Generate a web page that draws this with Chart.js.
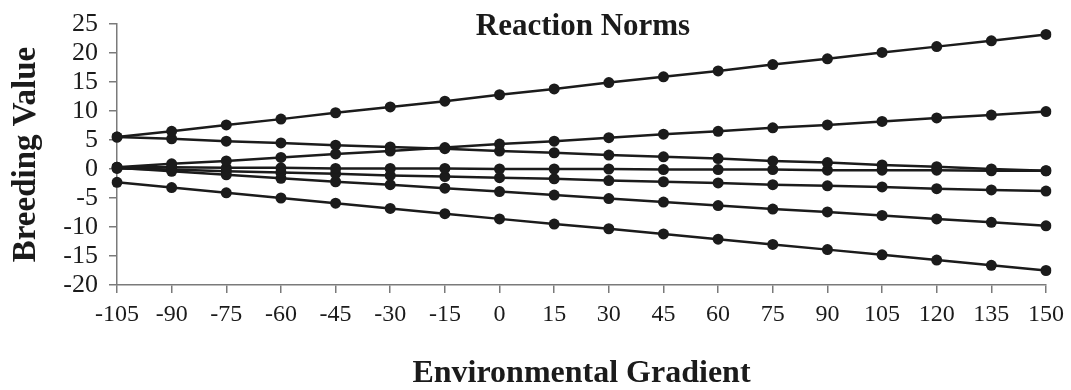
<!DOCTYPE html>
<html>
<head>
<meta charset="utf-8">
<script src="https://cdn.jsdelivr.net/npm/chart.js@4/dist/chart.umd.min.js"></script>
<style>
  html, body { margin: 0; padding: 0; background: #ffffff; }
  #wrap { width: 1071px; height: 390px; position: relative; }
</style>
</head>
<body>
<div id="wrap"><canvas id="c" width="1071" height="390"></canvas></div>
<script>
// Environmental gradient categories
const gradient = ["-105","-90","-75","-60","-45","-30","-15","0","15","30","45","60","75","90","105","120","135","150"];

// Breeding values per genotype (reaction norms)
const normA = [5.5, 6.5, 7.6, 8.6, 9.7, 10.7, 11.7, 12.8, 13.8, 14.9, 15.9, 16.9, 18.0, 19.0, 20.1, 21.1, 22.1, 23.2];
const normB = [0.3, 0.9, 1.4, 2.0, 2.6, 3.1, 3.7, 4.3, 4.8, 5.4, 6.0, 6.5, 7.1, 7.6, 8.2, 8.8, 9.3, 9.9];
const normC = [5.5, 5.2, 4.8, 4.5, 4.1, 3.8, 3.5, 3.1, 2.8, 2.4, 2.1, 1.8, 1.4, 1.1, 0.7, 0.4, 0.0, -0.3];
const normD = [0.3, 0.3, 0.2, 0.2, 0.1, 0.1, 0.1, 0.0, 0.0, 0.0, -0.1, -0.1, -0.1, -0.2, -0.2, -0.2, -0.3, -0.3];
const normE = [0.1, -0.1, -0.4, -0.6, -0.8, -1.1, -1.3, -1.5, -1.7, -2.0, -2.2, -2.4, -2.7, -2.9, -3.1, -3.4, -3.6, -3.8];
const normF = [0.2, -0.4, -1.0, -1.6, -2.2, -2.7, -3.3, -3.9, -4.5, -5.1, -5.7, -6.3, -6.9, -7.4, -8.0, -8.6, -9.2, -9.8];
const normG = [-2.3, -3.2, -4.1, -5.0, -5.9, -6.8, -7.7, -8.6, -9.5, -10.3, -11.2, -12.1, -13.0, -13.9, -14.8, -15.7, -16.6, -17.5];

// Y tick range
const yMin = -20, yMax = 25, yStep = 5;

const titleText = "Reaction Norms";
const xTitle = "Environmental Gradient";
const yTitle = "Breeding Value";

const serif = "'Liberation Serif', 'Times New Roman', serif";
const ink = "#1b1b1b";
const axisGrey = "#7a7a7a";

function series(data) {
  return {
    data: data,
    borderColor: ink,
    backgroundColor: ink,
    borderWidth: 2.5,
    pointRadius: 5.5,
    pointHoverRadius: 5.5,
    pointBackgroundColor: ink,
    pointBorderColor: ink,
    pointBorderWidth: 0,
    tension: 0,
    fill: false
  };
}

const innerTitle = {
  id: 'innerTitle',
  afterDraw(chart) {
    const ctx = chart.ctx;
    ctx.save();
    ctx.font = "bold 31px " + serif;
    ctx.fillStyle = ink;
    ctx.textAlign = 'center';
    ctx.textBaseline = 'alphabetic';
    ctx.fillText(titleText, 583, 35);
    ctx.restore();
  }
};

new Chart(document.getElementById('c'), {
  type: 'line',
  data: {
    labels: gradient,
    datasets: [normA, normB, normC, normD, normE, normF, normG].map(series)
  },
  options: {
    responsive: false,
    animation: false,
    layout: { padding: { left: 0, right: 23, top: 21, bottom: 0 } },
    plugins: {
      legend: { display: false },
      title: { display: false },
      tooltip: { enabled: false }
    },
    scales: {
      x: {
        type: 'category',
        offset: false,
        grid: { drawOnChartArea: false, drawTicks: true, tickLength: 8, color: axisGrey, offset: false, lineWidth: 1.5 },
        border: { display: true, color: axisGrey, width: 1.5 },
        ticks: { color: ink, font: { family: serif, size: 24 }, padding: 7, maxRotation: 0, autoSkip: false },
        title: { display: true, text: xTitle, color: ink, font: { family: serif, size: 32, weight: 'bold', lineHeight: 1.0 }, padding: { top: 0, bottom: 0 } },
        afterFit(scale) { scale.height = 105; }
      },
      y: {
        min: yMin, max: yMax,
        grid: { drawOnChartArea: false, drawTicks: true, tickLength: 8, color: axisGrey, lineWidth: 1.5 },
        border: { display: true, color: axisGrey, width: 1.5 },
        ticks: { stepSize: yStep, autoSkip: false, color: ink, font: { family: serif, size: 26, lineHeight: 1.0 }, padding: 11 },
        title: { display: true, text: yTitle, color: ink, font: { family: serif, size: 33, weight: 'bold', lineHeight: 1.0 }, padding: { top: 10, bottom: 0 } },
        afterFit(scale) { scale.width = 117; }
      }
    }
  },
  plugins: [innerTitle]
});
</script>
</body>
</html>
